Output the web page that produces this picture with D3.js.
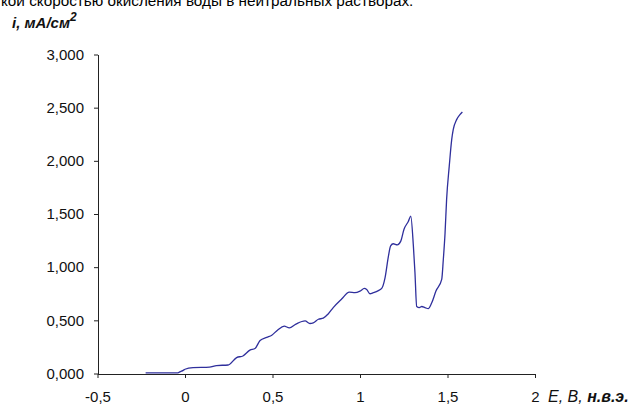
<!DOCTYPE html>
<html>
<head>
<meta charset="utf-8">
<script src="https://cdn.jsdelivr.net/npm/d3@7"></script>
<style>
  html, body { margin: 0; padding: 0; background: #fff; }
  svg { display: block; font-family: Arial, "Liberation Sans", sans-serif; }
</style>
</head>
<body>
<svg id="chart" width="639" height="404"></svg>
<script>
// Anodic polarization curve: potential E (V, n.h.e.) vs current density i (mA/cm²)
const potentialE = [
  -0.225, -0.04, -0.03, -0.01, 0.0, 0.046, 0.14, 0.18, 0.246, 0.295, 0.331, 0.371,
  0.40, 0.429, 0.467, 0.496, 0.53, 0.567, 0.596, 0.634, 0.686, 0.714, 0.733, 0.762,
  0.79, 0.818, 0.847, 0.895, 0.939, 0.971, 1.0, 1.025, 1.038, 1.057, 1.076, 1.105,
  1.124, 1.143, 1.162, 1.175, 1.19, 1.213, 1.233, 1.251, 1.276, 1.29, 1.305, 1.314,
  1.324, 1.339, 1.353, 1.371, 1.39, 1.41, 1.434, 1.467, 1.476, 1.486, 1.495, 1.51,
  1.524, 1.533, 1.553, 1.571, 1.585
];
const currentI = [
  0.005, 0.005, 0.015, 0.03, 0.04, 0.055, 0.06, 0.075, 0.08, 0.15, 0.165, 0.22,
  0.235, 0.31, 0.34, 0.36, 0.41, 0.445, 0.43, 0.465, 0.495, 0.47, 0.475, 0.51,
  0.52, 0.56, 0.62, 0.70, 0.765, 0.76, 0.775, 0.80, 0.79, 0.75, 0.76, 0.78,
  0.80, 0.90, 1.10, 1.20, 1.22, 1.21, 1.245, 1.355, 1.43, 1.48, 1.20, 0.95,
  0.63, 0.62, 0.63, 0.62, 0.61, 0.665, 0.775, 0.885, 1.07, 1.32, 1.64, 1.95,
  2.20, 2.295, 2.39, 2.435, 2.46
];
const xTicks = [-0.5, 0, 0.5, 1, 1.5, 2];
const yTicks = [0, 0.5, 1, 1.5, 2, 2.5, 3];

const svg = d3.select("#chart");
const x = d3.scaleLinear().domain([-0.5, 2]).range([97.5, 535]);
const y = d3.scaleLinear().domain([0, 3]).range([373.5, 54.5]);
const comma = s => s.replace(".", ",");

// caption line partially above the frame
svg.append("text")
  .attr("x", 1).attr("y", 5.5)
  .attr("font-size", 15.3).attr("fill", "#000")
  .text("кой скоростью окисления воды в нейтральных растворах.");

// y axis
const yAxis = svg.append("g")
  .attr("transform", `translate(${Math.round(x(-0.5))},0)`)
  .call(d3.axisLeft(y).tickValues(yTicks).tickSize(4).tickSizeOuter(0).tickPadding(10)
    .tickFormat(d => comma(d3.format(".3f")(d))));

// x axis
const xAxis = svg.append("g")
  .attr("transform", `translate(0,${Math.round(y(0))})`)
  .call(d3.axisBottom(x).tickValues(xTicks).tickSize(4).tickSizeOuter(0).tickPadding(13)
    .tickFormat(d => comma(String(d))));

[yAxis, xAxis].forEach(g => {
  g.selectAll(".domain, line").attr("stroke", "#222");
  g.selectAll("text").attr("font-size", 15).attr("fill", "#111")
    .attr("font-family", "Arial, 'Liberation Sans', sans-serif");
});

// axis titles
const yTitle = svg.append("text")
  .attr("x", 12).attr("y", 28)
  .attr("font-size", 15).attr("font-style", "italic").attr("font-weight", "bold").attr("fill", "#111");
yTitle.append("tspan").text("i, мА/см");
yTitle.append("tspan").attr("dy", -7).attr("font-size", 12).text("2");

const xTitle = svg.append("text")
  .attr("x", 548).attr("y", Math.round(y(0)) + 28)
  .attr("font-size", 16).attr("font-style", "italic").attr("fill", "#111");
xTitle.append("tspan").text("E, B, ");
xTitle.append("tspan").attr("font-weight", "bold").text("н.в.э.");

// curve
const pts = potentialE.map((e, k) => [e, currentI[k]]);
svg.append("path")
  .datum(pts)
  .attr("fill", "none")
  .attr("stroke", "#2f2f9c")
  .attr("stroke-width", 1.3)
  .attr("stroke-linejoin", "round")
  .attr("d", d3.line().x(d => x(d[0])).y(d => y(d[1])).curve(d3.curveMonotoneX));
</script>
</body>
</html>
